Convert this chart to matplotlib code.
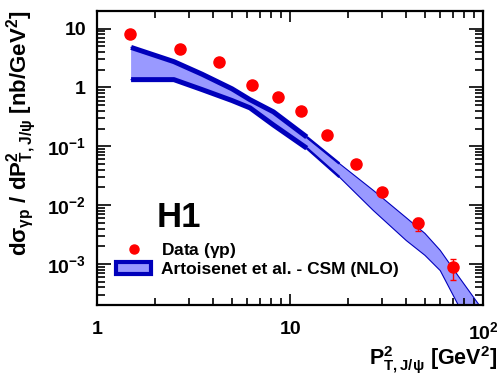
import matplotlib
matplotlib.use("Agg")
import matplotlib.pyplot as plt
from matplotlib.lines import Line2D
from matplotlib.patches import Patch
from matplotlib.ticker import FixedLocator, FixedFormatter, LogLocator, NullFormatter

plt.rcParams['font.family'] = ['Liberation Sans', 'DejaVu Sans']
plt.rcParams['font.weight'] = 'bold'
plt.rcParams['mathtext.fontset'] = 'custom'
plt.rcParams['mathtext.rm'] = 'Liberation Sans:bold'
plt.rcParams['mathtext.it'] = 'Liberation Sans:bold'
plt.rcParams['mathtext.bf'] = 'Liberation Sans:bold'
plt.rcParams['mathtext.sf'] = 'Liberation Sans:bold'

# H1 data (gamma p)
pt2 = [1.48, 2.69, 4.3, 6.38, 8.63, 11.4, 15.6, 22.0, 30.0, 46.0, 70.0]
xsec = [8.1, 4.55, 2.66, 1.09, 0.70, 0.40, 0.158, 0.051, 0.0166, 0.00494, 0.00089]
err_lo = [0.3, 0.2, 0.12, 0.05, 0.03, 0.02, 0.008, 0.003, 0.0012, 0.0013, 0.00035]
err_hi = [0.3, 0.2, 0.12, 0.05, 0.03, 0.02, 0.008, 0.003, 0.0012, 0.0012, 0.00032]

# CSM NLO band (Artoisenet et al.)
band_x = [1.5, 2.5, 3.5, 5.0, 6.2, 8.2, 12.2, 18.0, 27.0, 40.0, 50.0, 60.0, 75.0, 96.0]
band_hi = [4.8, 2.75, 1.68, 0.95, 0.62, 0.385, 0.144, 0.051, 0.0178, 0.0061, 0.0033, 0.0017, 0.0006, 0.000195]
band_lo = [1.36, 1.36, 0.92, 0.60, 0.45, 0.23, 0.093, 0.030, 0.0081, 0.0025, 0.0014, 0.00077, 0.00019, 0.00002]

light = '#9999ff'
dark = '#0000bb'

fig = plt.figure(figsize=(4.98, 3.78), dpi=100)
ax = fig.add_axes([0.195, 0.193, 0.775, 0.778])

ax.fill_between(band_x, band_lo, band_hi, facecolor=light, edgecolor='none')
ax.plot(band_x, band_hi, c=dark, lw=0.8)
ax.plot(band_x, band_lo, c=dark, lw=0.8)
ax.plot(band_x[:7], band_hi[:7], c=dark, lw=3.6, solid_capstyle='butt', solid_joinstyle='round')
ax.plot(band_x[:7], band_lo[:7], c=dark, lw=3.6, solid_capstyle='butt', solid_joinstyle='round')
ax.plot(band_x[6:8], band_hi[6:8], c=dark, lw=1.8, solid_capstyle='butt')
ax.plot(band_x[6:8], band_lo[6:8], c=dark, lw=1.8, solid_capstyle='butt')

ax.errorbar(pt2, xsec, yerr=[err_lo, err_hi], fmt='o', ms=8, color='red',
            ecolor='red', elinewidth=1, capsize=2, zorder=5)

ax.set_xscale('log')
ax.set_yscale('log')
ax.set_xlim(1, 100)
ax.set_ylim(2e-4, 20)

ax.xaxis.set_major_locator(FixedLocator([1, 10, 100]))
ax.xaxis.set_major_formatter(FixedFormatter(['1', '10', r'10$^{2}$']))
ax.xaxis.set_minor_locator(LogLocator(base=10, subs=range(2, 10)))
ax.xaxis.set_minor_formatter(NullFormatter())
ax.yaxis.set_major_locator(FixedLocator([1e-3, 1e-2, 1e-1, 1, 10]))
ax.yaxis.set_major_formatter(FixedFormatter([r'10$^{-3}$', r'10$^{-2}$', r'10$^{-1}$', '1', '10']))
ax.yaxis.set_minor_locator(LogLocator(base=10, subs=range(2, 10)))
ax.yaxis.set_minor_formatter(NullFormatter())

ax.tick_params(which='both', direction='in', top=True, right=True, width=1.2)
ax.tick_params(axis='y', which='major', length=10, labelsize=14, pad=8)
ax.tick_params(axis='y', which='minor', length=6)
ax.tick_params(axis='x', which='major', length=8, labelsize=14, pad=11.5)
ax.tick_params(axis='x', which='minor', length=5)
for s in ax.spines.values():
    s.set_linewidth(1.6)

ax.text(0.155, 0.265, 'H1', transform=ax.transAxes, fontsize=25, fontweight='bold')

handles = [Line2D([], [], marker='o', ls='none', color='red', ms=6.5),
           Patch(facecolor=light, edgecolor=dark, lw=3)]
ax.legend(handles, [r'Data ($\gamma$p)', 'Artoisenet et al. - CSM (NLO)'],
          loc='upper left', bbox_to_anchor=(0.05, 0.218), frameon=False,
          borderpad=0, borderaxespad=0, handlelength=2.0, handletextpad=0.55,
          labelspacing=0.1, prop={'size': 12.5, 'weight': 'bold'})

fig.text(0.998, 1 - 365 / 378, r'P$^{2}_{T,J/\psi}$ [GeV$^{2}$]', ha='right', va='baseline', fontsize=15.5)
fig.text(5 / 498, 1 - 10 / 378, r'd$\sigma_{\gamma p}$ / dP$^{2}_{T,J/\psi}$ [nb/GeV$^{2}$]',
         rotation=90, ha='left', va='top', fontsize=16)

fig.savefig('out.png', dpi=100)
